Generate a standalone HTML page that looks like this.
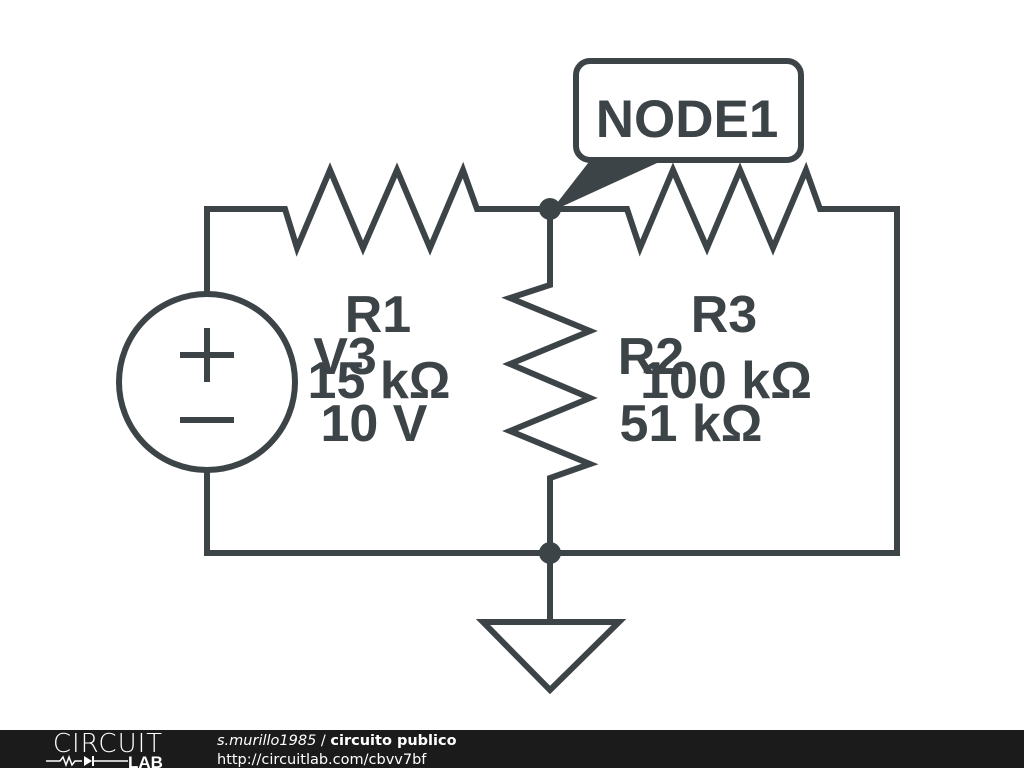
<!DOCTYPE html>
<html><head><meta charset="utf-8"><style>
html,body{margin:0;padding:0;width:1024px;height:768px;background:#fff;overflow:hidden}
</style></head><body>
<svg width="1024" height="768" viewBox="0 0 1024 768" xmlns="http://www.w3.org/2000/svg">
<g fill="none" stroke="#3d4448" stroke-width="6" stroke-linejoin="miter" stroke-linecap="butt">
<polyline points="207,294 207,209 285,209 297,248 330,170 363,248 397,170 430,248 463,170 477,209 627,209 640,248 673,170 707,248 740,170 773,248 806,170 820,209 897,209 897,553 207,553 207,470"/>
<polyline points="550,209 550,285 510,298 590,331 510,364 590,398 510,431 590,464 550,478 550,622"/>
<polygon points="483,622 619,622 550,690"/>
<circle cx="207" cy="382" r="88"/>
<line x1="180" y1="355" x2="234" y2="355"/>
<line x1="207" y1="328" x2="207" y2="382"/>
<line x1="180" y1="420" x2="234" y2="420"/>
<rect x="576" y="61" width="225" height="99" rx="14"/>
</g>
<polygon points="592,158 668,158 550,212" fill="#3d4448"/>
<circle cx="550" cy="209" r="11" fill="#3d4448"/>
<circle cx="550" cy="553" r="11" fill="#3d4448"/>
<g font-family="Liberation Sans, sans-serif" font-weight="bold" font-size="52" fill="#3d4448">
<text x="378" y="332" text-anchor="middle">R1</text>
<text x="345" y="374" text-anchor="middle">V3</text>
<text x="379" y="398" text-anchor="middle">15 kΩ</text>
<text x="374" y="441" text-anchor="middle">10 V</text>
<text x="724" y="332" text-anchor="middle">R3</text>
<text x="651" y="374" text-anchor="middle">R2</text>
<text x="726" y="398" text-anchor="middle">100 kΩ</text>
<text x="691" y="441" text-anchor="middle">51 kΩ</text>
<text x="687" y="137" text-anchor="middle" font-size="53">NODE1</text>
</g>
<rect x="0" y="730" width="1024" height="38" fill="#1b1b1b"/>
<text x="108" y="752" text-anchor="middle" font-family="DejaVu Sans, sans-serif" font-size="26" fill="#fff" font-weight="200" letter-spacing="1">CIRCUIT</text>
<polyline points="46,761 60,761 63,757 66,765 69,757 72,765 75,761 82,761" fill="none" stroke="#fff" stroke-width="1.5"/>
<polygon points="84,756 84,766 92,761" fill="#fff"/>
<line x1="93" y1="756" x2="93" y2="766" stroke="#fff" stroke-width="2"/>
<line x1="92" y1="761" x2="128" y2="761" stroke="#fff" stroke-width="1.5"/>
<text x="128" y="768" font-family="Liberation Sans, sans-serif" font-weight="bold" font-size="17" fill="#fff">LAB</text>
<text x="217" y="745" font-family="DejaVu Sans, sans-serif" font-size="14.5" fill="#fff"><tspan font-style="italic">s.murillo1985</tspan> / <tspan font-weight="bold">circuito publico</tspan></text>
<text x="217" y="764" font-family="DejaVu Sans, sans-serif" font-size="14.5" fill="#fff">http://circuitlab.com/cbvv7bf</text>
</svg>
</body></html>
